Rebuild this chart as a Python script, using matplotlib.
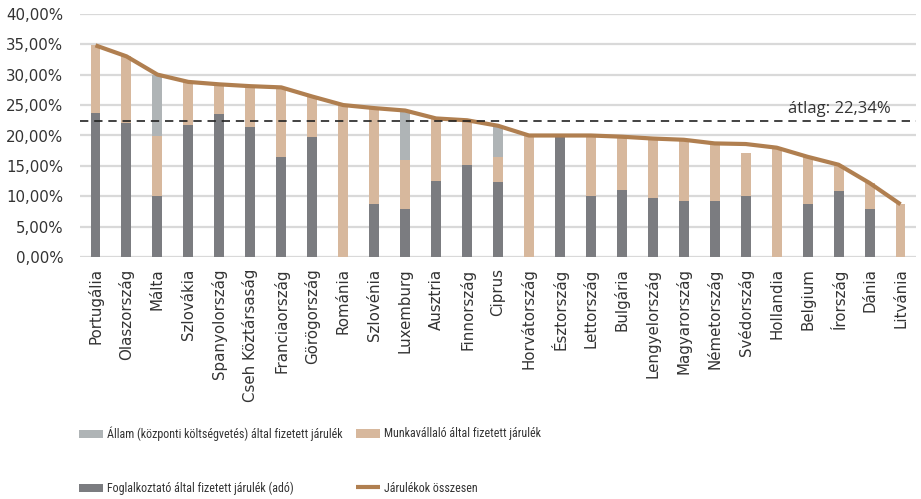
import numpy as np
import matplotlib.pyplot as plt
from matplotlib import font_manager as fm
from matplotlib.textpath import TextPath
from matplotlib.ticker import FuncFormatter

#%% data (percent of gross wage)
countries = ["Portugália", "Olaszország", "Málta", "Szlovákia", "Spanyolország",
             "Cseh Köztársaság", "Franciaország", "Görögország", "Románia", "Szlovénia",
             "Luxemburg", "Ausztria", "Finnország", "Ciprus", "Horvátország",
             "Észtország", "Lettország", "Bulgária", "Lengyelország", "Magyarország",
             "Németország", "Svédország", "Hollandia", "Belgium", "Írország",
             "Dánia", "Litvánia"]
employer = [23.7, 22.1, 10.0, 21.7, 23.5, 21.4, 16.5, 19.7, 0.0, 8.8,
            7.9, 12.5, 15.2, 12.3, 0.0, 20.0, 10.0, 11.0, 9.8, 9.3,
            9.3, 10.1, 0.0, 8.8, 10.9, 8.0, 0.0]
employee = [11.1, 10.9, 10.0, 7.1, 4.9, 6.7, 11.4, 6.7, 25.0, 15.7,
            8.1, 10.3, 7.3, 4.2, 20.0, 0.0, 10.0, 8.8, 9.7, 10.0,
            9.4, 7.1, 18.0, 7.7, 4.3, 4.2, 8.7]
state = [0.0, 0.0, 10.0, 0.0, 0.0, 0.0, 0.0, 0.0, 0.0, 0.0,
         8.1, 0.0, 0.0, 5.1, 0.0, 0.0, 0.0, 0.0, 0.0, 0.0,
         0.0, 0.0, 0.0, 0.0, 0.0, 0.0, 0.0]
total = [34.8, 33.0, 30.0, 28.8, 28.4, 28.1, 27.9, 26.4, 25.0, 24.5,
         24.1, 22.8, 22.5, 21.6, 20.0, 20.0, 20.0, 19.8, 19.5, 19.3,
         18.7, 18.6, 18.0, 16.5, 15.2, 12.2, 8.7]
average = 22.34
legend_labels = ["Állam (központi költségvetés) által fizetett járulék",
                 "Foglalkoztató által fizetett járulék (adó)",
                 "Munkavállaló által fizetett járulék",
                 "Járulékok összesen"]

#%% colours
c_employer = "#7b7c80"
c_employee = "#d7b89d"
c_state = "#afb4b6"
c_total = "#b07f50"
c_grid = "#d9d9d9"
c_text = "#333333"

plt.rcParams['font.family'] = ['DejaVu Sans']
DPI = 100


#%% legend font: a narrow face, sized so the longest label fits its column
def pick_narrow():
    fonts = [f for f in fm.fontManager.ttflist
             if f.style == 'normal' and f.weight in (400, 'normal', 'regular', 'book')]
    prefs = ['Liberation Sans Narrow', 'Arial Narrow', 'Roboto Condensed',
             'Noto Sans ExtraCondensed', 'Noto Sans Condensed', 'Open Sans Condensed',
             'Noto Sans SemiCondensed', 'DejaVu Sans Condensed']
    for p in prefs:
        for f in fonts:
            if f.name == p:
                return fm.FontProperties(fname=f.fname)
    for f in fonts:
        if f.stretch == 'condensed' or 'Narrow' in f.name or 'Condensed' in f.name:
            return fm.FontProperties(fname=f.fname)
    return fm.FontProperties(family='Roboto')


leg_font = pick_narrow()
w1 = TextPath((0, 0), legend_labels[0], size=1, prop=leg_font).get_extents().width
leg_size = min(9.5, 236 / (w1 * DPI / 72))
leg_font.set_size(leg_size)

fig = plt.figure(figsize=(9.21, 4.99), dpi=DPI)
ax = fig.add_axes([80 / 921, 1 - 257.3 / 499, 836 / 921, 243.6 / 499])

x = np.arange(len(countries))
emp = np.array(employer)
wrk = np.array(employee)
st = np.array(state)
w = 0.32

b1 = ax.bar(x, emp, w, color=c_employer, zorder=2)
b2 = ax.bar(x, wrk, w, bottom=emp, color=c_employee, zorder=2)
b3 = ax.bar(x, st, w, bottom=emp + wrk, color=c_state, zorder=2)
ln, = ax.plot(x, total, color=c_total, lw=3, zorder=3, solid_capstyle='butt')

ax.axhline(average, color="#222222", lw=1.2, ls=(0, (5, 3.5)), zorder=4, clip_on=False)
ax.text(25.7, average + 0.7, "átlag: " + f"{average:.2f}".replace(".", ",") + "%",
        ha='right', va='bottom', fontsize=12, color=c_text,
        family=['Open Sans', 'DejaVu Sans'])

ax.set_xlim(-0.5, len(countries) - 0.5)
ax.set_ylim(0, 40)
ax.set_yticks(np.arange(0, 41, 5))
ax.yaxis.set_major_formatter(FuncFormatter(lambda v, p: f"{v:.2f}".replace(".", ",") + "%"))
ax.grid(axis='y', color=c_grid, lw=1.6, zorder=0)
ax.set_axisbelow(True)
for s in ax.spines.values():
    s.set_visible(False)
ax.tick_params(axis='both', length=0, labelsize=10.8, colors=c_text)
ax.tick_params(axis='y', pad=12)
ax.tick_params(axis='x', pad=8)
ax.set_xticks(x)
ax.set_xticklabels(countries, rotation=90, va='top', ha='center')

# legend in two fixed columns
em_px = leg_size * DPI / 72
leg_kw = dict(loc='center left', frameon=False, labelspacing=41 / em_px,
              handlelength=24 / em_px, handletextpad=4 / em_px, prop=leg_font,
              borderpad=0, borderaxespad=0)
leg1 = fig.legend([b3, b1], legend_labels[:2],
                  bbox_to_anchor=(79 / 921, 1 - 461 / 499), **leg_kw)
leg2 = fig.legend([b2, ln], legend_labels[2:],
                  bbox_to_anchor=(356 / 921, 1 - 461 / 499), **leg_kw)
for lg in (leg1, leg2):
    for t in lg.get_texts():
        t.set_color(c_text)

fig.savefig("out.png", dpi=DPI)
